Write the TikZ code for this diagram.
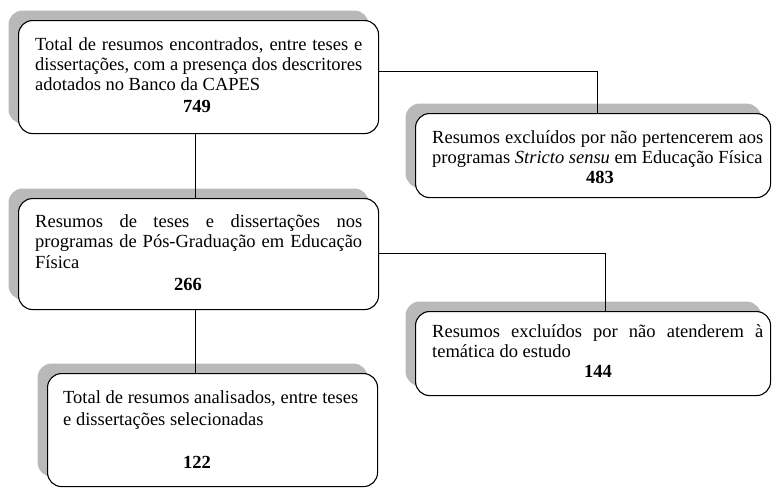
\documentclass[tikz,border=0pt]{standalone}
\usepackage{fontspec}
\setmainfont{Liberation Serif}
\usetikzlibrary{shadows}
\begin{document}
\begin{tikzpicture}[x=1pt,y=-1pt,
  box/.style={draw=black, line width=1.1pt, fill=white, rounded corners=14pt, inner sep=0pt, anchor=north west,
    drop shadow={shadow xshift=-10pt, shadow yshift=10pt, fill=gray!55, opacity=1}},
  sbox/.style={box, drop shadow={shadow xshift=-9pt, shadow yshift=9pt, fill=gray!55, opacity=1}},
  txt/.style={anchor=base west, inner sep=0pt, font=\fontsize{18.5}{21}\selectfont},
  num/.style={anchor=base, inner sep=0pt, font=\fontsize{18.5}{21}\selectfont\bfseries},
  link/.style={draw=black, line width=0.9pt}]
\useasboundingbox (0,0) rectangle (773,488);
% boxes
\node[box, minimum width=360pt, minimum height=113pt] (b1) at (18,20) {};
\node[sbox, minimum width=355pt, minimum height=84pt] (b2) at (415,113) {};
\node[box, minimum width=360pt, minimum height=111pt] (b3) at (18,198) {};
\node[sbox, minimum width=355pt, minimum height=84pt] (b4) at (415,311) {};
\node[box, minimum width=330pt, minimum height=113pt] (b5) at (47,373) {};
% connectors
\draw[link] ([yshift=5.5pt]b1.east) -| ([xshift=4.5pt]b2.north);
\draw[link] ([xshift=-3pt]b1.south) -- ([xshift=-3pt]b3.north);
\draw[link] ([yshift=0.5pt]b3.east) -| ([xshift=12.5pt]b4.north);
\draw[link] ([xshift=-3pt]b3.south) -- ([xshift=-3pt]b3.south |- b5.north);
% box 1 text
\node[txt] (t1a) at (35,50) {\makebox[327pt][s]{Total de resumos encontrados, entre teses e}};
\node[txt] (t1b) at (35,70) {\makebox[327pt][s]{dissertações, com a presença dos descritores}};
\node[txt] (t1c) at (35,90) {adotados no Banco da CAPES};
\node[num] (n1) at (197,112) {749};
% box 2 text
\node[txt] (t2a) at (432,143) {\makebox[331pt][s]{Resumos excluídos por não pertencerem aos}};
\node[txt] (t2b) at (432,163) {programas \textit{Stricto sensu} em Educação Física};
\node[num] (n2) at (600,183) {483};
% box 3 text
\node[txt] (t3a) at (35,227) {\makebox[327pt][s]{Resumos de teses e dissertações nos}};
\node[txt] (t3b) at (35,247) {\makebox[327pt][s]{programas de Pós-Graduação em Educação}};
\node[txt] (t3c) at (35,268) {Física};
\node[num] (n3) at (188,290) {266};
% box 4 text
\node[txt] (t4a) at (432,337) {\makebox[331pt][s]{Resumos excluídos por não atenderem à}};
\node[txt] (t4b) at (432,357) {temática do estudo};
\node[num] (n4) at (598,377) {144};
% box 5 text
\node[txt] (t5a) at (63,403) {\makebox[295pt][s]{Total de resumos analisados, entre teses}};
\node[txt] (t5b) at (63,425) {e dissertações selecionadas};
\node[num] (n5) at (197,468) {122};
\end{tikzpicture}
\end{document}
